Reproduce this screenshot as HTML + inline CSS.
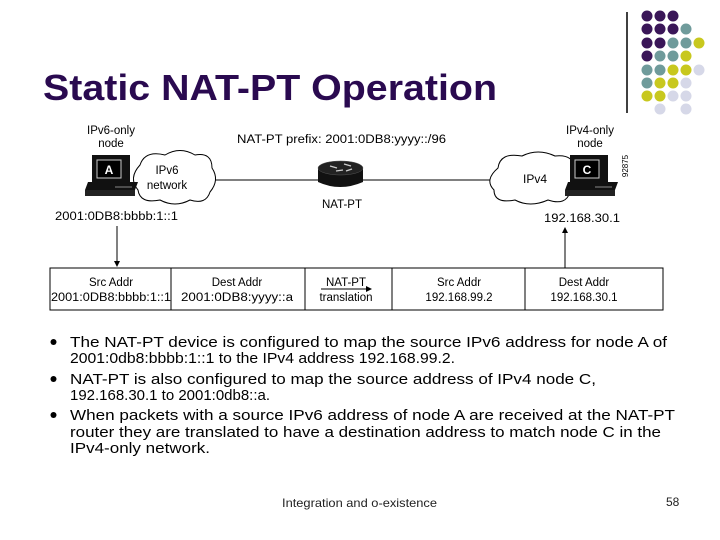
<!DOCTYPE html>
<html><head><meta charset="utf-8"><style>
html,body{margin:0;padding:0;background:#fff;}
svg{display:block;}
text{font-family:"Liberation Sans",Arial,sans-serif;}
</style></head><body>
<svg width="720" height="540" viewBox="0 0 720 540" xmlns="http://www.w3.org/2000/svg">
<!-- decorative dots -->
<line x1="627" y1="12" x2="627" y2="113" stroke="#000" stroke-width="1.5"/>
<g>
<circle cx="647" cy="16" r="5.5" fill="#3a1658"/><circle cx="660" cy="16" r="5.5" fill="#3a1658"/><circle cx="673" cy="16" r="5.5" fill="#3a1658"/>
<circle cx="647" cy="29" r="5.5" fill="#3a1658"/><circle cx="660" cy="29" r="5.5" fill="#3a1658"/><circle cx="673" cy="29" r="5.5" fill="#3a1658"/><circle cx="686" cy="29" r="5.5" fill="#6f9b9b"/>
<circle cx="647" cy="43" r="5.5" fill="#3a1658"/><circle cx="660" cy="43" r="5.5" fill="#3a1658"/><circle cx="673" cy="43" r="5.5" fill="#6f9b9b"/><circle cx="686" cy="43" r="5.5" fill="#6f9b9b"/><circle cx="699" cy="43" r="5.5" fill="#c8c81e"/>
<circle cx="647" cy="56" r="5.5" fill="#3a1658"/><circle cx="660" cy="56" r="5.5" fill="#6f9b9b"/><circle cx="673" cy="56" r="5.5" fill="#6f9b9b"/><circle cx="686" cy="56" r="5.5" fill="#c8c81e"/>
<circle cx="647" cy="70" r="5.5" fill="#6f9b9b"/><circle cx="660" cy="70" r="5.5" fill="#6f9b9b"/><circle cx="673" cy="70" r="5.5" fill="#c8c81e"/><circle cx="686" cy="70" r="5.5" fill="#c8c81e"/><circle cx="699" cy="70" r="5.5" fill="#d6d8e8"/>
<circle cx="647" cy="83" r="5.5" fill="#6f9b9b"/><circle cx="660" cy="83" r="5.5" fill="#c8c81e"/><circle cx="673" cy="83" r="5.5" fill="#c8c81e"/><circle cx="686" cy="83" r="5.5" fill="#d6d8e8"/>
<circle cx="647" cy="96" r="5.5" fill="#c8c81e"/><circle cx="660" cy="96" r="5.5" fill="#c8c81e"/><circle cx="673" cy="96" r="5.5" fill="#d6d8e8"/><circle cx="686" cy="96" r="5.5" fill="#d6d8e8"/>
<circle cx="660" cy="109" r="5.5" fill="#d6d8e8"/><circle cx="686" cy="109" r="5.5" fill="#d6d8e8"/>
</g>
<!-- title -->
<text x="43" y="100" font-size="36" font-weight="bold" fill="#2a0a50" textLength="454" lengthAdjust="spacingAndGlyphs">Static NAT-PT Operation</text>

<!-- diagram -->
<g font-size="11.5" fill="#000">
<text x="111" y="134" text-anchor="middle">IPv6-only</text>
<text x="111" y="147" text-anchor="middle">node</text>
<text x="590" y="134" text-anchor="middle">IPv4-only</text>
<text x="590" y="147" text-anchor="middle">node</text>
<text x="237" y="143" textLength="209" lengthAdjust="spacingAndGlyphs">NAT-PT prefix: 2001:0DB8:yyyy::/96</text>
<text x="342" y="208" text-anchor="middle">NAT-PT</text>
<text x="55" y="220" textLength="123" lengthAdjust="spacingAndGlyphs">2001:0DB8:bbbb:1::1</text>
<text x="544" y="222" textLength="76" lengthAdjust="spacingAndGlyphs">192.168.30.1</text>
<text x="628" y="166" font-size="8" transform="rotate(-90 628 166)" text-anchor="middle">92875</text>
</g>
<line x1="212" y1="180" x2="492" y2="180" stroke="#000" stroke-width="1"/>
<!-- cloud left -->
<path d="M140 165 Q145 150 165 155 Q180 146 195 155 Q212 152 212 168 Q220 180 210 192 Q206 205 190 200 Q175 208 160 200 Q140 204 138 190 Q128 178 140 165 Z" fill="#fff" stroke="#000"/>
<text x="167" y="174" font-size="11.5" text-anchor="middle">IPv6</text>
<text x="167" y="189" font-size="11.5" text-anchor="middle">network</text>
<!-- cloud right -->
<path d="M498 168 Q500 152 522 156 Q538 148 555 156 Q575 154 574 170 Q580 182 570 192 Q566 206 548 200 Q530 208 515 200 Q494 204 494 190 Q484 180 498 168 Z" fill="#fff" stroke="#000"/>
<text x="535" y="183" font-size="12" text-anchor="middle">IPv4</text>
<!-- computer A -->
<g>
<rect x="92" y="155" width="38" height="27" fill="#111"/>
<rect x="97" y="160" width="24" height="18" fill="#000" stroke="#ccc" stroke-width="1"/>
<text x="109" y="174" font-size="12" font-weight="bold" fill="#fff" text-anchor="middle">A</text>
<polygon points="88,182 138,182 135,190 85,190" fill="#111"/>
<rect x="85" y="190" width="50" height="6" fill="#222"/>
<line x1="115" y1="187" x2="132" y2="187" stroke="#888"/>
</g>
<!-- computer C -->
<g>
<rect x="570" y="155" width="38" height="27" fill="#111"/>
<rect x="575" y="160" width="24" height="18" fill="#000" stroke="#ccc" stroke-width="1"/>
<text x="587" y="174" font-size="12" font-weight="bold" fill="#fff" text-anchor="middle">C</text>
<polygon points="568,182 618,182 615,190 565,190" fill="#111"/>
<rect x="565" y="190" width="50" height="6" fill="#222"/>
<line x1="595" y1="187" x2="612" y2="187" stroke="#888"/>
</g>
<!-- router -->
<g>
<path d="M318 168 L318 182 Q340 192 363 182 L363 168 Z" fill="#111"/>
<ellipse cx="340.5" cy="168" rx="22.5" ry="7" fill="#222" stroke="#555" stroke-width="0.5"/>
<path d="M330 166 L337 168 M344 164 L351 166 M336 171 L343 170 M346 171 L352 169" stroke="#ccc" stroke-width="1.3"/>
</g>
<!-- arrows -->
<line x1="117" y1="226" x2="117" y2="262" stroke="#000"/>
<polygon points="114,261 120,261 117,267" fill="#000"/>
<line x1="565" y1="232" x2="565" y2="268" stroke="#000"/>
<polygon points="562,233 568,233 565,227" fill="#000"/>
<!-- table -->
<g stroke="#000" fill="none" stroke-width="1">
<rect x="50" y="268" width="613" height="42"/>
<line x1="171" y1="268" x2="171" y2="310"/>
<line x1="305" y1="268" x2="305" y2="310"/>
<line x1="392" y1="268" x2="392" y2="310"/>
<line x1="525" y1="268" x2="525" y2="310"/>
</g>
<g font-size="11.5" text-anchor="middle">
<text x="111" y="286">Src Addr</text>
<text x="111" y="301" textLength="120" lengthAdjust="spacingAndGlyphs">2001:0DB8:bbbb:1::1</text>
<text x="237" y="286">Dest Addr</text>
<text x="237" y="301" textLength="112" lengthAdjust="spacingAndGlyphs">2001:0DB8:yyyy::a</text>
<text x="346" y="286">NAT-PT</text>
<text x="346" y="301">translation</text>
<text x="459" y="286">Src Addr</text>
<text x="459" y="301">192.168.99.2</text>
<text x="584" y="286">Dest Addr</text>
<text x="584" y="301">192.168.30.1</text>
</g>
<line x1="321" y1="289" x2="368" y2="289" stroke="#000"/>
<polygon points="366,286 372,289 366,292" fill="#000"/>

<!-- bullets -->
<g font-size="15" fill="#000">
<circle cx="53.5" cy="342" r="3" fill="#000"/>
<circle cx="53.5" cy="379" r="3" fill="#000"/>
<circle cx="53.5" cy="415" r="3" fill="#000"/>
<text x="70" y="347" textLength="597" lengthAdjust="spacingAndGlyphs">The NAT-PT device is configured to map the source IPv6 address for node A of</text>
<text x="70" y="363" textLength="385" lengthAdjust="spacingAndGlyphs">2001:0db8:bbbb:1::1 to the IPv4 address 192.168.99.2.</text>
<text x="70" y="384" textLength="526" lengthAdjust="spacingAndGlyphs">NAT-PT is also configured to map the source address of IPv4 node C,</text>
<text x="70" y="400" textLength="200" lengthAdjust="spacingAndGlyphs">192.168.30.1 to 2001:0db8::a.</text>
<text x="70" y="420" textLength="605" lengthAdjust="spacingAndGlyphs">When packets with a source IPv6 address of node A are received at the NAT-PT</text>
<text x="70" y="437" textLength="591" lengthAdjust="spacingAndGlyphs">router they are translated to have a destination address to match node C in the</text>
<text x="70" y="453" textLength="140" lengthAdjust="spacingAndGlyphs">IPv4-only network.</text>
</g>
<text x="282" y="507" font-size="12" fill="#222" textLength="155" lengthAdjust="spacingAndGlyphs">Integration and o-existence</text>
<text x="666" y="506" font-size="12" fill="#222">58</text>
</svg>
</body></html>
